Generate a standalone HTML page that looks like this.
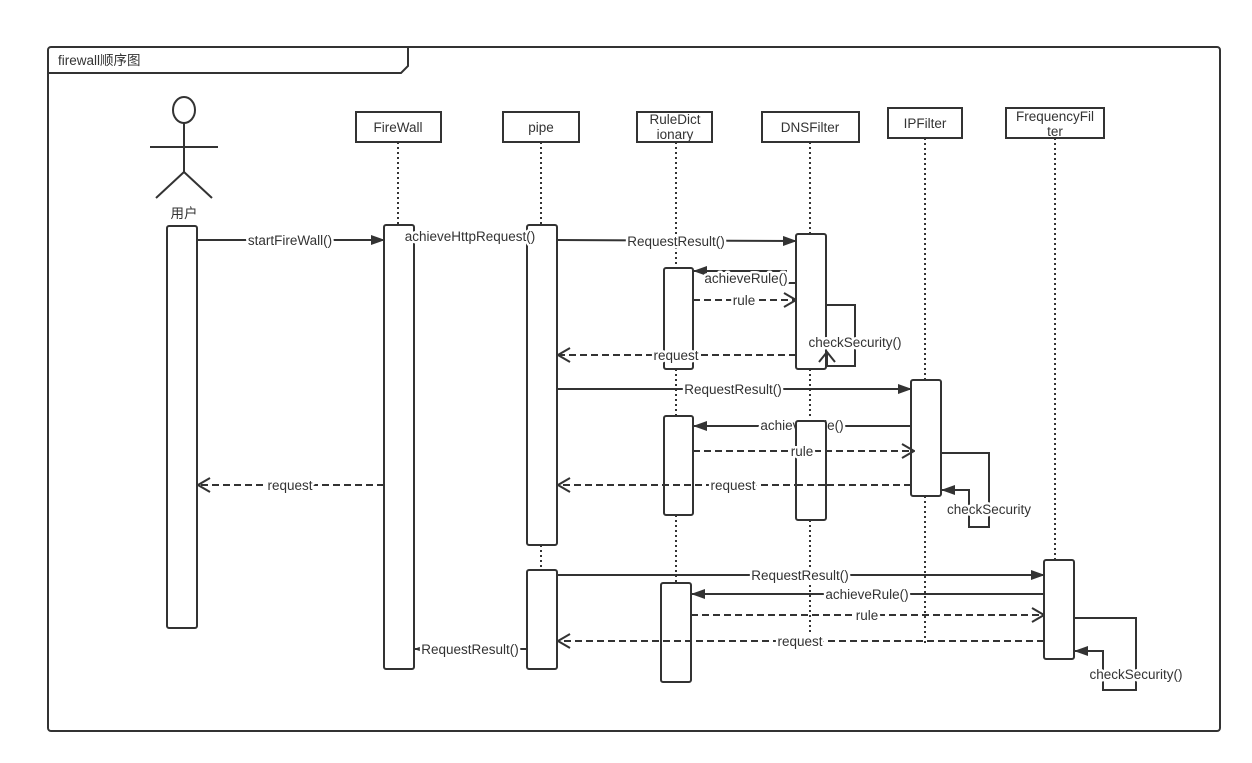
<!DOCTYPE html>
<html><head><meta charset="utf-8"><style>
html,body{margin:0;padding:0;background:#fff;}
svg{display:block;}
text{font-family:"Liberation Sans","Noto Sans CJK SC",sans-serif;font-size:13.5px;fill:#333;}
.l{paint-order:stroke;stroke:#fff;stroke-width:5px;stroke-linejoin:round;}
</style></head><body>
<svg width="1252" height="763" viewBox="0 0 1252 763" xmlns="http://www.w3.org/2000/svg">
<defs>
<marker id="f" markerWidth="14" markerHeight="10" refX="13" refY="5" orient="auto" markerUnits="userSpaceOnUse"><path d="M0,0 L14,5 L0,10 z" fill="#333"/></marker>
<marker id="o" markerWidth="14" markerHeight="16" refX="13" refY="8" orient="auto" markerUnits="userSpaceOnUse"><path d="M1,1 L13,8 L1,15" fill="none" stroke="#333" stroke-width="2"/></marker>
</defs>
<g stroke="#333" stroke-width="2" fill="none">
<rect x="48" y="47" width="1172" height="684" rx="3"/>
<path d="M48,73 L401,73 L408,66 L408,47"/>
</g>
<text x="58" y="65" font-size="12.5">firewall顺序图</text>

<g stroke="#333" stroke-width="2" fill="none">
<ellipse cx="184" cy="110" rx="11" ry="13"/>
<line x1="184" y1="123" x2="184" y2="172"/>
<line x1="150" y1="147" x2="218" y2="147"/>
<line x1="184" y1="172" x2="156" y2="198"/>
<line x1="184" y1="172" x2="212" y2="198"/>
</g>
<text x="184" y="218" text-anchor="middle">用户</text>

<g stroke="#333" stroke-width="2" fill="#fff">
<rect x="356" y="112" width="85" height="30"/>
<rect x="503" y="112" width="76" height="30"/>
<rect x="637" y="112" width="75" height="30"/>
<rect x="762" y="112" width="97" height="30"/>
<rect x="888" y="108" width="74" height="30"/>
<rect x="1006" y="108" width="98" height="30"/>
</g>
<text x="398" y="132" text-anchor="middle">FireWall</text>
<text x="541" y="132" text-anchor="middle">pipe</text>
<text x="675" y="124" text-anchor="middle">RuleDict</text>
<text x="675" y="139" text-anchor="middle">ionary</text>
<text x="810" y="132" text-anchor="middle">DNSFilter</text>
<text x="925" y="128" text-anchor="middle">IPFilter</text>
<text x="1055" y="121" text-anchor="middle">FrequencyFil</text>
<text x="1055" y="136" text-anchor="middle">ter</text>

<g stroke="#333" stroke-width="2" stroke-dasharray="2,3" fill="none">
<line x1="398" y1="142" x2="398" y2="226"/>
<line x1="541" y1="142" x2="541" y2="226"/>
<line x1="541" y1="545" x2="541" y2="570"/>
<line x1="676" y1="142" x2="676" y2="268"/>
<line x1="676" y1="369" x2="676" y2="416"/>
<line x1="676" y1="515" x2="676" y2="583"/>
<line x1="810" y1="142" x2="810" y2="234"/>
<line x1="810" y1="369" x2="810" y2="421"/>
<line x1="810" y1="520" x2="810" y2="632"/>
<line x1="925" y1="138" x2="925" y2="380"/>
<line x1="925" y1="496" x2="925" y2="645"/>
<line x1="1055" y1="138" x2="1055" y2="560"/>
</g>

<g stroke="#333" stroke-width="2" fill="#fff">
<rect x="167" y="226" width="30" height="402" rx="2"/>
<rect x="384" y="225" width="30" height="444" rx="2"/>
<rect x="527" y="225" width="30" height="320" rx="2"/>
<rect x="527" y="570" width="30" height="99" rx="2"/>
<rect x="664" y="268" width="29" height="101" rx="2"/>
<rect x="664" y="416" width="29" height="99" rx="2"/>
<rect x="661" y="583" width="30" height="99" rx="2"/>
<rect x="796" y="234" width="30" height="135" rx="2"/>
<rect x="911" y="380" width="30" height="116" rx="2"/>
<rect x="1044" y="560" width="30" height="99" rx="2"/>
</g>

<g stroke="#333" stroke-width="2" fill="none">
<line x1="197" y1="240" x2="384" y2="240" marker-end="url(#f)"/>
<line x1="557" y1="240" x2="796" y2="241" marker-end="url(#f)"/>
<path d="M796,283 L786,283 L786,271 L694,271" marker-end="url(#f)"/>
<line x1="693" y1="300" x2="796" y2="300" stroke-dasharray="7,4" marker-end="url(#o)"/>
<path d="M826,305 L855,305 L855,366 L827,366 L827,353"/>
<path d="M819,362 L827,352 L835,362"/>
<line x1="796" y1="355" x2="558" y2="355" stroke-dasharray="7,4" marker-end="url(#o)"/>
<line x1="557" y1="389" x2="911" y2="389" marker-end="url(#f)"/>
<line x1="911" y1="426" x2="694" y2="426" marker-end="url(#f)"/>
<line x1="911" y1="485" x2="558" y2="485" stroke-dasharray="7,4" marker-end="url(#o)"/>
<path d="M941,453 L989,453 L989,527 L969,527 L969,490 L942,490" marker-end="url(#f)"/>
<line x1="384" y1="485" x2="198" y2="485" stroke-dasharray="7,4" marker-end="url(#o)"/>
<line x1="557" y1="575" x2="1044" y2="575" marker-end="url(#f)"/>
<line x1="1044" y1="594" x2="692" y2="594" marker-end="url(#f)"/>
<line x1="691" y1="615" x2="1044" y2="615" stroke-dasharray="7,4" marker-end="url(#o)"/>
<line x1="1044" y1="641" x2="558" y2="641" stroke-dasharray="7,4" marker-end="url(#o)"/>
<path d="M1074,618 L1136,618 L1136,690 L1103,690 L1103,651 L1075,651" marker-end="url(#f)"/>
<line x1="527" y1="649" x2="415" y2="649" marker-end="url(#f)"/>
</g>

<text x="290" y="245" text-anchor="middle" class="l">startFireWall()</text>
<text x="470" y="241" text-anchor="middle" class="l">achieveHttpRequest()</text>
<text x="676" y="246" text-anchor="middle" class="l">RequestResult()</text>
<text x="746" y="283" text-anchor="middle" class="l">achieveRule()</text>
<text x="744" y="305" text-anchor="middle" class="l">rule</text>
<text x="855" y="347" text-anchor="middle" class="l">checkSecurity()</text>
<text x="676" y="360" text-anchor="middle" class="l">request</text>
<text x="733" y="394" text-anchor="middle" class="l">RequestResult()</text>
<text x="802" y="430" text-anchor="middle" class="l">achieveRule()</text>
<rect x="796" y="421" width="30" height="99" rx="2" stroke="#333" stroke-width="2" fill="#fff"/>
<line x1="693" y1="451" x2="914" y2="451" stroke="#333" stroke-width="2" stroke-dasharray="7,4" marker-end="url(#o)"/>
<line x1="796" y1="485" x2="826" y2="485" stroke="#333" stroke-width="2" stroke-dasharray="7,4"/>
<text x="802" y="456" text-anchor="middle" class="l">rule</text>
<text x="733" y="490" text-anchor="middle" class="l">request</text>
<text x="989" y="514" text-anchor="middle" class="l">checkSecurity</text>
<text x="290" y="490" text-anchor="middle" class="l">request</text>
<text x="800" y="580" text-anchor="middle" class="l">RequestResult()</text>
<text x="867" y="599" text-anchor="middle" class="l">achieveRule()</text>
<text x="867" y="620" text-anchor="middle" class="l">rule</text>
<text x="800" y="646" text-anchor="middle" class="l">request</text>
<text x="1136" y="679" text-anchor="middle" class="l">checkSecurity()</text>
<text x="470" y="654" text-anchor="middle" class="l">RequestResult()</text>
</svg>
</body></html>
